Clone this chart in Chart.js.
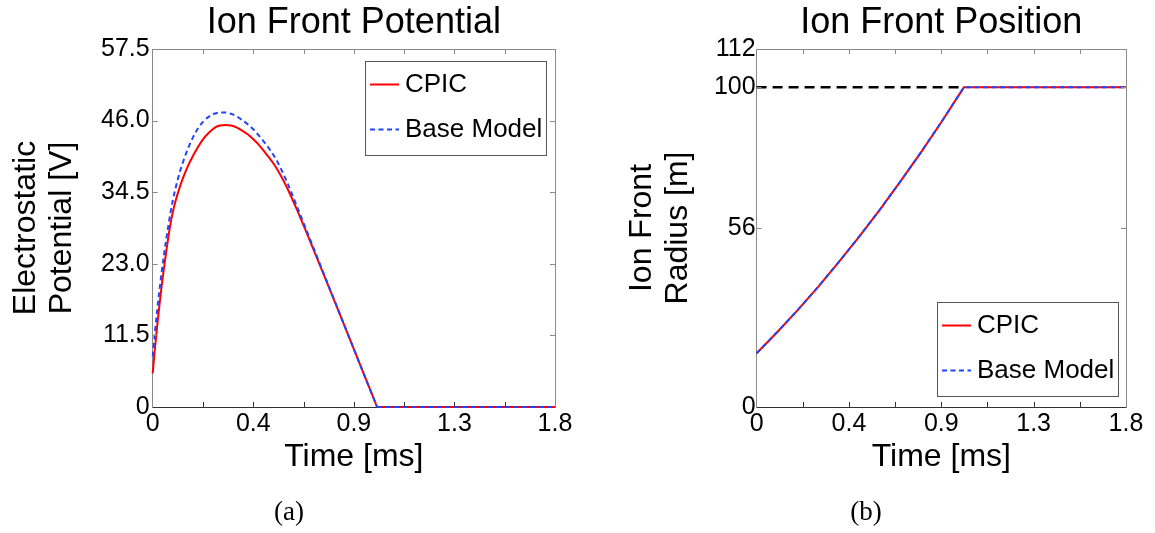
<!DOCTYPE html>
<html lang="en">
<head>
<meta charset="UTF-8">
<title>Ion Front Potential and Position</title>
<script src="https://cdn.jsdelivr.net/npm/chart.js"></script>
<style>
  body { margin: 0; background: #fff; }
  #wrap { position: relative; width: 1155px; height: 533px; overflow: hidden; }
  canvas { position: absolute; top: 0; }
  #potentialChart { left: 0; }
  #radiusChart { left: 580px; }
  .caption {
    position: absolute;
    top: 498px;
    width: 578px;
    text-align: center;
    font: 27px/27px 'Liberation Serif', 'DejaVu Serif', serif;
    color: #000;
  }
</style>
</head>
<body>
<div id="wrap">
  <canvas id="potentialChart" width="580" height="533" style="width:580px;height:533px"></canvas>
  <canvas id="radiusChart" width="575" height="533" style="width:575px;height:533px"></canvas>
  <div class="caption" style="left:0">(a)</div>
  <div class="caption" style="left:577px">(b)</div>
</div>
<script>
// Time axis (shared by both panels)
const timeTicks = [0, 0.225, 0.45, 0.675, 0.9, 1.125, 1.35, 1.575, 1.8];
const timeTickLabels = ['0', '', '0.4', '', '0.9', '', '1.3', '', '1.8'];

// Panel (a): ion front potential [V], curved part up to the point where it reaches 0
const potTicks = [0, 11.5, 23, 34.5, 46, 57.5];
const potTickLabels = ['0', '11.5', '23.0', '34.5', '46.0', '57.5'];
const potTime = [0, 0.01, 0.02, 0.03, 0.04, 0.05, 0.06, 0.07, 0.08, 0.09, 0.1, 0.12, 0.14, 0.16, 0.18, 0.2,
  0.225, 0.25, 0.275, 0.3, 0.325, 0.35, 0.375, 0.4, 0.425, 0.45, 0.475, 0.5, 0.55, 0.6, 0.65, 0.7, 0.8, 0.9, 1.004];
const cpicPotential = [5.4, 9.4, 13.0, 16.3, 19.4, 22.2, 24.8, 27.3, 29.5, 31.3, 32.8, 35.2, 37.2, 38.9, 40.3, 41.6,
  43.0, 44.0, 44.8, 45.2, 45.3, 45.2, 44.9, 44.4, 43.8, 43.0, 42.1, 41.0, 38.6, 35.3, 31.3, 27.0, 18.2, 9.3, 0];
const basePotential = [8.1, 12.0, 15.5, 18.7, 21.6, 24.3, 26.8, 29.1, 31.3, 33.2, 34.8, 37.6, 39.8, 41.7, 43.3, 44.6,
  45.8, 46.6, 47.1, 47.3, 47.3, 47.1, 46.7, 46.1, 45.4, 44.6, 43.6, 42.5, 39.9, 36.2, 31.8, 27.3, 18.3, 9.3, 0];
// after the front has gone, the potential stays at 0
const potTailTime = [1.004, 1.8];
const potTail = [0, 0];

// Panel (b): ion front radius [m]
const radiusTicks = [0, 56, 100, 112];
const radiusTickLabels = ['0', '56', '100', '112'];
const radiusTime = [0, 0.1, 0.2, 0.3, 0.4, 0.5, 0.6, 0.7, 0.8, 0.9, 1.01, 1.8];
const cpicRadius = [16.8, 23.4, 30.3, 37.6, 45.3, 53.3, 61.7, 70.5, 79.6, 89.1, 100, 100];
const baseRadius = [16.8, 23.4, 30.3, 37.6, 45.3, 53.3, 61.7, 70.5, 79.6, 89.1, 100, 100];
const wallTime = [0, 1.01];
const wallRadius = [100, 100];

const FONT = "'Liberation Sans', Arial, Helvetica, sans-serif";
const FRAME = '#8a8a8a';
const FRAME_DARK = '#333333';
const RED = '#ff0000';
const BLUE = '#1f45ff';

function points(xs, ys) {
  return xs.map((x, i) => ({ x: x, y: ys[i] }));
}

// Force a scale box to a fixed size so the plot areas line up with the figure
function fixSize(prop, px) {
  return function (scale) { scale[prop] = px; };
}

function setTicks(values) {
  return function (scale) { scale.ticks = values.map(v => ({ value: v })); };
}

// MATLAB style inward tick marks on all four sides
const boxTicks = {
  id: 'boxTicks',
  afterDraw(chart) {
    const { ctx, chartArea: a, scales } = chart;
    const len = 5;
    ctx.save();
    ctx.lineWidth = 1;
    function seg(x1, y1, x2, y2, color) {
      ctx.strokeStyle = color;
      ctx.beginPath();
      ctx.moveTo(x1, y1);
      ctx.lineTo(x2, y2);
      ctx.stroke();
    }
    scales.x.ticks.forEach(t => {
      const px = Math.round(scales.x.getPixelForValue(t.value)) + 0.5;
      if (px <= a.left + 1 || px >= a.right - 1) return;
      seg(px, a.bottom, px, a.bottom - len, FRAME_DARK);
      seg(px, a.top, px, a.top + len, FRAME);
    });
    scales.y.ticks.forEach(t => {
      const py = Math.round(scales.y.getPixelForValue(t.value)) + 0.5;
      if (py <= a.top + 1 || py >= a.bottom - 1) return;
      seg(a.left, py, a.left + len, py, FRAME);
      seg(a.right, py, a.right - len, py, FRAME);
    });
    ctx.restore();
  }
};

// Boxed legend inside the plot area
const boxLegend = {
  id: 'boxLegend',
  afterDraw(chart, args, opts) {
    const { ctx, chartArea: a } = chart;
    const items = chart.data.datasets.filter(d => d.inLegend);
    const w = 181, h = 94;
    const x0 = Math.round(a.right - opts.right - w);
    const y0 = Math.round(opts.corner === 'top' ? a.top + opts.offset : a.bottom - opts.offset - h);
    ctx.save();
    ctx.fillStyle = '#fff';
    ctx.fillRect(x0, y0, w, h);
    ctx.strokeStyle = '#555';
    ctx.lineWidth = 1;
    ctx.strokeRect(x0 + 0.5, y0 + 0.5, w, h);
    items.forEach((d, i) => {
      const y = y0 + 23.5 + i * 45;
      ctx.strokeStyle = d.borderColor;
      ctx.lineWidth = d.borderWidth;
      ctx.setLineDash(d.borderDash || []);
      ctx.beginPath();
      ctx.moveTo(x0 + 5, y);
      ctx.lineTo(x0 + 34, y);
      ctx.stroke();
      ctx.setLineDash([]);
      ctx.fillStyle = '#000';
      ctx.font = '26px ' + FONT;
      ctx.textAlign = 'left';
      ctx.textBaseline = 'middle';
      ctx.fillText(d.label, x0 + 40, y);
    });
    ctx.restore();
  }
};

function lineSet(label, data, color, dash, order, smooth) {
  return {
    label: label,
    data: data,
    borderColor: color,
    borderWidth: 2,
    borderDash: dash,
    pointRadius: 0,
    tension: smooth ? 0.4 : 0,
    cubicInterpolationMode: smooth ? 'monotone' : 'default',
    fill: false,
    clip: false,
    order: order,
    inLegend: true
  };
}

function hidden(ds) {
  ds.inLegend = false;
  return ds;
}

function buildOptions(g) {
  return {
    responsive: false,
    animation: false,
    events: [],
    layout: { padding: 0 },
    plugins: {
      legend: { display: false },
      tooltip: { enabled: false },
      boxLegend: g.legend
    },
    scales: {
      x: {
        type: 'linear', position: 'bottom', min: 0, max: 1.8,
        afterBuildTicks: setTicks(timeTicks),
        afterFit: fixSize('height', 126),
        grid: { drawOnChartArea: false, drawTicks: false },
        border: { color: FRAME_DARK, width: 1 },
        ticks: {
          autoSkip: false, maxRotation: 0, padding: 2, color: '#000',
          font: { family: FONT, size: 25, lineHeight: 1.2 },
          callback: (v, i) => timeTickLabels[i]
        },
        title: {
          display: true, text: 'Time [ms]', color: '#000',
          font: { family: FONT, size: 32, lineHeight: 1.125 },
          padding: { top: 0, bottom: 58 }
        }
      },
      x2: {
        axis: 'x', type: 'linear', position: 'top', min: 0, max: 1.8,
        afterBuildTicks: setTicks(timeTicks),
        afterFit: fixSize('height', 49),
        grid: { drawOnChartArea: false, drawTicks: false },
        border: { color: FRAME, width: 1 },
        ticks: { display: false },
        title: {
          display: true, text: g.title, color: '#000',
          font: { family: FONT, size: 36, lineHeight: 1 },
          padding: { top: 5, bottom: 0 }
        }
      },
      y: {
        type: 'linear', position: 'left', min: 0, max: g.yMax,
        afterBuildTicks: setTicks(g.yTicks),
        afterFit: fixSize('width', g.leftWidth),
        grid: { drawOnChartArea: false, drawTicks: false },
        border: { color: FRAME, width: 1 },
        ticks: {
          autoSkip: false, padding: g.yPad, color: '#000',
          font: { family: FONT, size: 25, lineHeight: 1.2 },
          callback: (v, i) => g.yLabels[i]
        },
        title: {
          display: true, text: g.yTitle, color: '#000',
          font: { family: FONT, size: 32, lineHeight: 1.125 },
          padding: { top: g.yTitlePad, bottom: 0 }
        }
      },
      y2: {
        axis: 'y', type: 'linear', position: 'right', min: 0, max: g.yMax,
        afterBuildTicks: setTicks(g.yTicks),
        afterFit: fixSize('width', g.rightWidth),
        grid: { drawOnChartArea: false, drawTicks: false },
        border: { color: FRAME, width: 1 },
        ticks: { display: false }
      }
    }
  };
}

// Panel (a)
new Chart(document.getElementById('potentialChart'), {
  type: 'line',
  data: {
    datasets: [
      lineSet('CPIC', points(potTime, cpicPotential), RED, [], 1, true),
      lineSet('Base Model', points(potTime, basePotential), BLUE, [5, 3.5], 0, true),
      hidden(lineSet('CPIC', points(potTailTime, potTail), RED, [], 1, false)),
      hidden(lineSet('Base Model', points(potTailTime, potTail), BLUE, [5, 3.5], 0, false))
    ]
  },
  options: buildOptions({
    title: 'Ion Front Potential',
    yTitle: ['Electrostatic', 'Potential [V]'],
    yTitlePad: 8,
    yTicks: potTicks,
    yLabels: potTickLabels,
    yMax: 57.5,
    yPad: 3,
    leftWidth: 152.7,
    rightWidth: 25,
    legend: { corner: 'top', right: 9, offset: 12 }
  }),
  plugins: [boxTicks, boxLegend]
});

// Panel (b)
const wall = hidden(lineSet('Limit', points(wallTime, wallRadius), '#000', [10, 6], 2, false));
wall.borderWidth = 2.5;

new Chart(document.getElementById('radiusChart'), {
  type: 'line',
  data: {
    datasets: [
      lineSet('CPIC', points(radiusTime, cpicRadius), RED, [], 1, false),
      lineSet('Base Model', points(radiusTime, baseRadius), BLUE, [5, 3.5], 0, false),
      wall
    ]
  },
  options: buildOptions({
    title: 'Ion Front Position',
    yTitle: ['Ion Front', 'Radius [m]'],
    yTitlePad: 44,
    yTicks: radiusTicks,
    yLabels: radiusTickLabels,
    yMax: 112,
    yPad: 1,
    leftWidth: 176.6,
    rightWidth: 29,
    legend: { corner: 'bottom', right: 8, offset: 11.5 }
  }),
  plugins: [boxTicks, boxLegend]
});
</script>
</body>
</html>
